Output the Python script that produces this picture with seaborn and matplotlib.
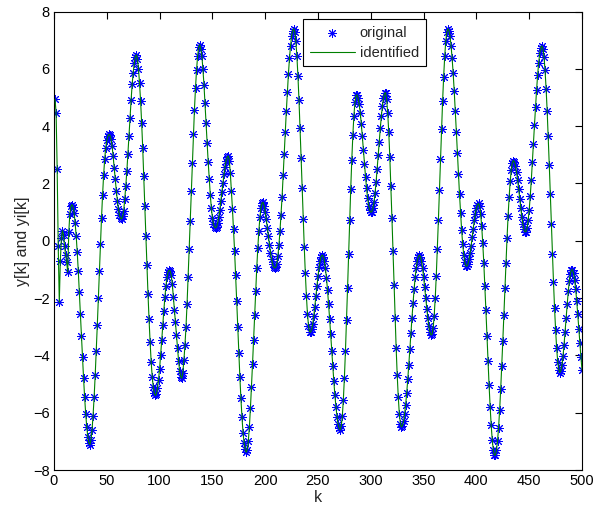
import matplotlib
matplotlib.use("Agg")
import matplotlib.pyplot as plt
import seaborn as sns
import pandas as pd

# sample index
k = list(range(1, 501))

# original output y[k] (one value per sample)
y_original = [
    4.94, 4.45, 2.5, -0.2, -2.15, -0.7, 0.1, 0.35, 0.2, -0.2,
    -0.5, -0.75, -1.1, 0.3, 0.95, 1.2, 1.26, 1.19, 0.98, 0.63,
    0.17, -0.40, -1.06, -1.79, -2.54, -3.32, -4.07, -4.80, -5.46, -6.03,
    -6.49, -6.84, -7.05, -7.12, -6.95, -6.6, -6.1, -5.45, -4.7, -3.85,
    -2.95, -2.0, -1.05, -0.1, 0.8, 1.6, 2.3, 2.85, 3.25, 3.5,
    3.65, 3.71, 3.68, 3.55, 3.3, 2.95, 2.55, 2.15, 1.75, 1.4,
    1.1, 0.9, 0.78, 0.76, 0.85, 1.05, 1.46, 1.92, 2.44, 3.02,
    3.66, 4.3, 4.9, 5.46, 5.87, 6.2, 6.42, 6.49, 6.35, 6.0,
    5.5, 4.87, 4.12, 3.25, 2.26, 1.22, 0.18, -0.86, -1.85, -2.74,
    -3.53, -4.22, -4.75, -5.1, -5.32, -5.4, -5.34, -5.15, -4.85, -4.46,
    -3.99, -3.48, -2.95, -2.44, -1.97, -1.58, -1.28, -1.09, -1.03, -1.05,
    -1.2, -1.5, -1.95, -2.4, -2.85, -3.3, -3.75, -4.2, -4.55, -4.75,
    -4.8, -4.6, -4.17, -3.65, -3.0, -2.2, -1.27, -0.29, 0.7, 1.74,
    2.73, 3.71, 4.58, 5.33, 5.97, 6.44, 6.75, 6.84, 6.7, 6.45,
    6.0, 5.45, 4.8, 4.1, 3.4, 2.75, 2.15, 1.6, 1.15, 0.8,
    0.58, 0.47, 0.45, 0.49, 0.62, 0.82, 1.08, 1.38, 1.71, 2.03,
    2.33, 2.59, 2.79, 2.92, 2.96, 2.8, 2.35, 1.75, 1.1, 0.4,
    -0.35, -1.2, -2.1, -3.0, -3.9, -4.75, -5.5, -6.15, -6.7, -7.05,
    -7.28, -7.38, -7.3, -7.0, -6.5, -5.85, -5.1, -4.3, -3.45, -2.6,
    -1.75, -0.95, -0.25, 0.35, 0.82, 1.15, 1.32, 1.34, 1.22, 1.0,
    0.75, 0.45, 0.15, -0.15, -0.42, -0.65, -0.82, -0.92, -0.95, -0.93,
    -0.80, -0.54, -0.15, 0.34, 0.91, 1.54, 2.30, 3.04, 3.78, 4.52,
    5.19, 5.83, 6.37, 6.81, 7.13, 7.33, 7.4, 7.29, 6.97, 6.45,
    5.75, 4.90, 3.94, 2.90, 1.83, 0.77, -0.23, -1.14, -1.92, -2.54,
    -2.96, -3.17, -3.19, -3.09, -2.90, -2.63, -2.30, -1.94, -1.58, -1.23,
    -0.93, -0.70, -0.55, -0.5, -0.55, -0.70, -0.96, -1.30, -1.71, -2.19,
    -2.72, -3.27, -3.83, -4.38, -4.91, -5.39, -5.80, -6.14, -6.40, -6.55,
    -6.6, -6.48, -6.13, -5.55, -4.78, -3.84, -2.78, -1.64, -0.45, 0.71,
    1.82, 2.83, 3.69, 4.37, 4.83, 5.07, 5.09, 4.98, 4.76, 4.46,
    4.08, 3.64, 3.17, 2.69, 2.24, 1.83, 1.48, 1.22, 1.06, 1.0,
    1.01, 1.13, 1.34, 1.66, 2.05, 2.50, 2.98, 3.46, 3.93, 4.35,
    4.71, 4.98, 5.14, 5.17, 4.93, 4.47, 3.79, 2.93, 1.92, 0.81,
    -0.35, -1.54, -2.68, -3.74, -4.68, -5.45, -6.03, -6.38, -6.5, -6.45,
    -6.30, -6.05, -5.72, -5.31, -4.84, -4.32, -3.78, -3.22, -2.68, -2.16,
    -1.69, -1.28, -0.95, -0.70, -0.55, -0.5, -0.55, -0.70, -0.94, -1.26,
    -1.62, -1.99, -2.37, -2.71, -2.99, -3.18, -3.29, -3.27, -3.05, -2.63,
    -2.01, -1.22, -0.30, 0.71, 1.78, 2.86, 3.91, 4.88, 5.73, 6.44,
    6.97, 7.29, 7.4, 7.33, 7.14, 6.81, 6.37, 5.84, 5.22, 4.53,
    3.81, 3.06, 2.33, 1.62, 0.97, 0.38, -0.11, -0.49, -0.75, -0.88,
    -0.89, -0.81, -0.65, -0.43, -0.17, 0.13, 0.42, 0.71, 0.95, 1.14,
    1.26, 1.3, 1.21, 0.94, 0.51, -0.07, -0.77, -1.57, -2.43, -3.32,
    -4.20, -5.04, -5.79, -6.44, -6.95, -7.30, -7.48, -7.48, -7.31, -6.99,
    -6.52, -5.91, -5.19, -4.37, -3.50, -2.58, -1.66, -0.76, 0.09, 0.86,
    1.53, 2.07, 2.47, 2.72, 2.8, 2.75, 2.62, 2.40, 2.13, 1.80,
    1.46, 1.13, 0.83, 0.58, 0.40, 0.31, 0.32, 0.45, 0.71, 1.08,
    1.56, 2.12, 2.74, 3.39, 4.04, 4.68, 5.27, 5.79, 6.22, 6.54,
    6.73, 6.8, 6.70, 6.42, 5.95, 5.31, 4.54, 3.64, 2.65, 1.63,
    0.57, -0.45, -1.44, -2.34, -3.11, -3.75, -4.22, -4.50, -4.6, -4.53,
    -4.34, -4.03, -3.63, -3.17, -2.68, -2.20, -1.76, -1.40, -1.15, -1.02,
    -1.01, -1.13, -1.36, -1.69, -2.10, -2.57, -3.07, -3.58, -4.07, -4.51,
]

# identified model output yi[k] (coincides with the original in the picture)
y_identified = list(y_original)

series_labels = ["original", "identified"]
x_label = "k"
y_label = "y[k] and yi[k]"
x_ticks = [0, 50, 100, 150, 200, 250, 300, 350, 400, 450, 500]
y_ticks = [-8, -6, -4, -2, 0, 2, 4, 6, 8]

df = pd.DataFrame({"k": k, "y": y_original, "yi": y_identified})

sns.set_style("white")
plt.rcParams["font.family"] = ["Liberation Sans", "DejaVu Sans"]

W, H = 594, 508
TICK_FS = 10.5
LABEL_FS = 11.5
LEG_FS = 10.5
fig = plt.figure(figsize=(W / 100, H / 100), dpi=100)
L, R, T, B = 54, 582, 11.5, 470
ax = fig.add_axes([L / W, 1 - B / H, (R - L) / W, (B - T) / H])

sns.scatterplot(data=df, x="k", y="y", ax=ax, marker=(8, 2, 0), s=34,
                color="#0000ff", edgecolor="#0000ff", linewidth=0.7,
                label=series_labels[0], zorder=2)
sns.lineplot(data=df, x="k", y="yi", ax=ax, color="#008000", linewidth=0.8,
             label=series_labels[1], zorder=3)

ax.set_xlim(0, 500)
ax.set_ylim(-8, 8)
ax.set_xticks(x_ticks)
ax.set_yticks(y_ticks)
ax.set_xticklabels([str(v) for v in x_ticks])
ax.set_yticklabels([("\u2212" + str(-v)) if v < 0 else str(v) for v in y_ticks])
ax.tick_params(direction="in", top=True, right=True, length=5, width=0.8,
               labelsize=TICK_FS, colors="black", pad=3)
for s in ax.spines.values():
    s.set_visible(True)
    s.set_color("black")
    s.set_linewidth(0.8)
ax.set_xlabel(x_label, fontsize=LABEL_FS, labelpad=1)
ax.set_ylabel(y_label, fontsize=LABEL_FS, labelpad=2)

leg = ax.legend(loc="upper left", bbox_to_anchor=((303 - L) / (R - L), (B - 19) / (B - T)),
                frameon=True, fancybox=False, framealpha=1, edgecolor="black",
                fontsize=LEG_FS, handlelength=3.1, borderpad=0.45, labelspacing=0.42,
                handletextpad=0.35, borderaxespad=0)
leg.get_frame().set_linewidth(0.8)

fig.savefig("out.png", dpi=100)
